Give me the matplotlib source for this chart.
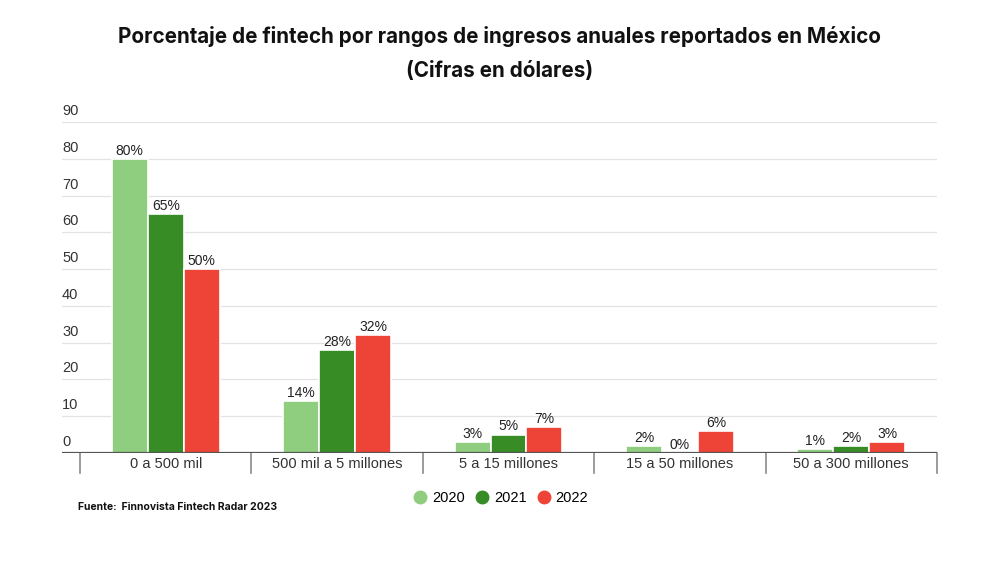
import matplotlib
matplotlib.use("Agg")
import matplotlib.pyplot as plt
import matplotlib.transforms as mtransforms
from matplotlib.lines import Line2D
import numpy as np

categories = ["0 a 500 mil", "500 mil a 5 millones", "5 a 15 millones", "15 a 50 millones", "50 a 300 millones"]
years = ["2020", "2021", "2022"]
values_2020 = [80, 14, 3, 2, 1]
values_2021 = [65, 28, 5, 0, 2]
values_2022 = [50, 32, 7, 6, 3]
yticks = [0, 10, 20, 30, 40, 50, 60, 70, 80, 90]

colors = ["#8fce7e", "#378c26", "#ee4438"]
series = [values_2020, values_2021, values_2022]

plt.rcParams['font.family'] = ['Liberation Sans', 'DejaVu Sans']
title_font = ['Inter', 'DejaVu Sans']

fig = plt.figure(figsize=(10, 5.62), dpi=100)
ax = fig.add_axes([0.062, 0.194, 0.875, 0.589])

x = np.arange(len(categories))
w = 0.21
for i, (vals, c) in enumerate(zip(series, colors)):
    pos = x + (i - 1) * w
    ax.bar(pos, vals, width=w, color=c, edgecolor="white", linewidth=1.2, zorder=3)
    for p, v in zip(pos, vals):
        ax.text(p, v + 0.3, f"{v}%", ha="center", va="bottom", fontsize=10, color="#222222", zorder=4)

ax.set_xlim(-0.605, 4.5)
ax.set_ylim(0, 90)

# gridlines
for t in yticks[1:]:
    ax.axhline(t, color="#e3e3e3", linewidth=0.9, zorder=1)
ax.axhline(0, color="#555555", linewidth=1.6, zorder=5)

# y tick labels above gridlines
trans = mtransforms.blended_transform_factory(ax.transAxes, ax.transData)
offset = mtransforms.offset_copy(trans, fig=fig, x=0, y=4, units='dots')
for t in yticks:
    ax.text(0.0, t, str(t), transform=offset, ha="left", va="bottom", fontsize=10.5, color="#333333")

# category separators
sep_trans = mtransforms.blended_transform_factory(ax.transData, ax.transAxes)
for b in np.arange(len(categories) + 1) - 0.5:
    ax.plot([b, b], [0, -0.06], transform=sep_trans, color="#8a8a8a", linewidth=1.2, clip_on=False)

ax.set_xticks(x)
ax.set_xticklabels(categories, fontsize=10.5, color="#333333")
ax.tick_params(axis="x", length=0, pad=3)
ax.set_yticks([])
for s in ax.spines.values():
    s.set_visible(False)

fig.text(0.5, 0.935, "Porcentaje de fintech por rangos de ingresos anuales reportados en México",
         ha="center", va="center", fontsize=14.85, fontweight="bold", color="#111111", family=title_font)
fig.text(0.5, 0.873, "(Cifras en dólares)", ha="center", va="center", fontsize=14.85, fontweight="bold",
         color="#111111", family=title_font)

fig.text(0.078, 0.097, "Fuente:  Finnovista Fintech Radar 2023", ha="left", va="center",
         fontsize=7.5, fontweight="bold", color="#111111", family=title_font)

handles = [Line2D([0], [0], marker="o", linestyle="", markersize=9, markerfacecolor=c, markeredgecolor=c) for c in colors]
fig.legend(handles, years, loc="center", bbox_to_anchor=(0.5, 0.114), ncol=3, frameon=False,
           fontsize=10.5, handletextpad=0.2, columnspacing=0.6, handlelength=1.2)

fig.savefig("out.png", dpi=100)
